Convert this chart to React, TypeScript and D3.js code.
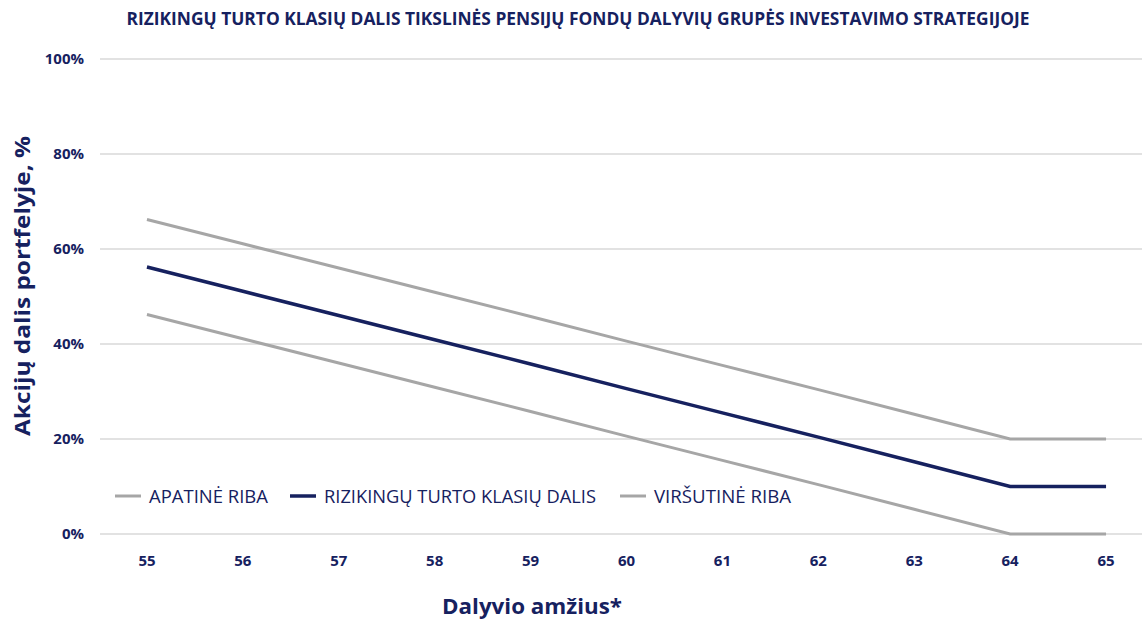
import React from "react";
import * as d3 from "d3";

const ages = ["55", "56", "57", "58", "59", "60", "61", "62", "63", "64", "65"];
const lowerBound = [46.2, 41.1, 36, 30.9, 25.8, 20.6, 15.5, 10.4, 5.2, 0, 0];
const riskyShare = [56.2, 51.1, 46, 40.9, 35.8, 30.6, 25.5, 20.4, 15.2, 10, 10];
const upperBound = [66.2, 61.1, 56, 50.9, 45.8, 40.6, 35.5, 30.4, 25.2, 20, 20];
const yTicks = [0, 20, 40, 60, 80, 100];

const NAVY = "#16215f";
const GRAY = "#a6a6a6";
const FONT = "'Open Sans', sans-serif";

const series = [
  { name: "APATINĖ RIBA", values: lowerBound, color: GRAY, width: 3 },
  { name: "RIZIKINGŲ TURTO KLASIŲ DALIS", values: riskyShare, color: NAVY, width: 3.5 },
  { name: "VIRŠUTINĖ RIBA", values: upperBound, color: GRAY, width: 3 },
];

const legendItems = [
  { x: 115, textLen: 119 },
  { x: 290, textLen: 272 },
  { x: 620, textLen: 137 },
];

export default function App() {
  const width = 1142;
  const height = 619;

  const x = d3.scaleBand<string>().domain(ages).range([99, 1154]);
  const y = d3.scaleLinear().domain([0, 100]).range([534, 59]);
  const cx = (a: string) => (x(a) ?? 0) + x.bandwidth() / 2;

  const line = d3
    .line<number>()
    .x((_, i) => cx(ages[i]))
    .y((d) => y(d));

  return (
    <div style={{ position: "fixed", left: 0, top: 0 }}>
      <svg width={width} height={height} style={{ display: "block", background: "#fff" }}>
        <text
          x={578}
          y={25}
          textAnchor="middle"
          fill={NAVY}
          fontFamily={FONT}
          fontWeight="bold"
          fontSize={17}
          textLength={903}
          lengthAdjust="spacingAndGlyphs"
        >
          RIZIKINGŲ TURTO KLASIŲ DALIS TIKSLINĖS PENSIJŲ FONDŲ DALYVIŲ GRUPĖS INVESTAVIMO STRATEGIJOJE
        </text>

        {yTicks.map((t) => (
          <g key={t}>
            <line x1={100} x2={1142} y1={y(t)} y2={y(t)} stroke="#d9d9d9" strokeWidth={1.5} />
            <text
              x={84}
              y={y(t) + 5}
              textAnchor="end"
              fill={NAVY}
              fontFamily={FONT}
              fontWeight="bold"
              fontSize={15}
            >
              {t}%
            </text>
          </g>
        ))}

        {ages.map((a) => (
          <text
            key={a}
            x={cx(a)}
            y={566}
            textAnchor="middle"
            fill={NAVY}
            fontFamily={FONT}
            fontWeight="bold"
            fontSize={15}
          >
            {a}
          </text>
        ))}

        {series.map((s) => (
          <path
            key={s.name}
            d={line(s.values) ?? ""}
            fill="none"
            stroke={s.color}
            strokeWidth={s.width}
          />
        ))}

        {series.map((s, i) => (
          <g key={s.name} transform={`translate(${legendItems[i].x},496)`}>
            <line x1={0} x2={26} y1={0} y2={0} stroke={s.color} strokeWidth={s.width} />
            <text
              x={34}
              y={7}
              fill={NAVY}
              fontFamily={FONT}
              fontSize={18}
              textLength={legendItems[i].textLen}
              lengthAdjust="spacingAndGlyphs"
            >
              {s.name}
            </text>
          </g>
        ))}

        <text
          transform="translate(30,286) rotate(-90)"
          textAnchor="middle"
          fill={NAVY}
          fontFamily={FONT}
          fontWeight="bold"
          fontSize={22}
          textLength={300}
          lengthAdjust="spacingAndGlyphs"
        >
          Akcijų dalis portfelyje, %
        </text>
        <text
          x={532}
          y={614}
          textAnchor="middle"
          fill={NAVY}
          fontFamily={FONT}
          fontWeight="bold"
          fontSize={21}
          textLength={180}
          lengthAdjust="spacingAndGlyphs"
        >
          Dalyvio amžius*
        </text>
      </svg>
    </div>
  );
}
